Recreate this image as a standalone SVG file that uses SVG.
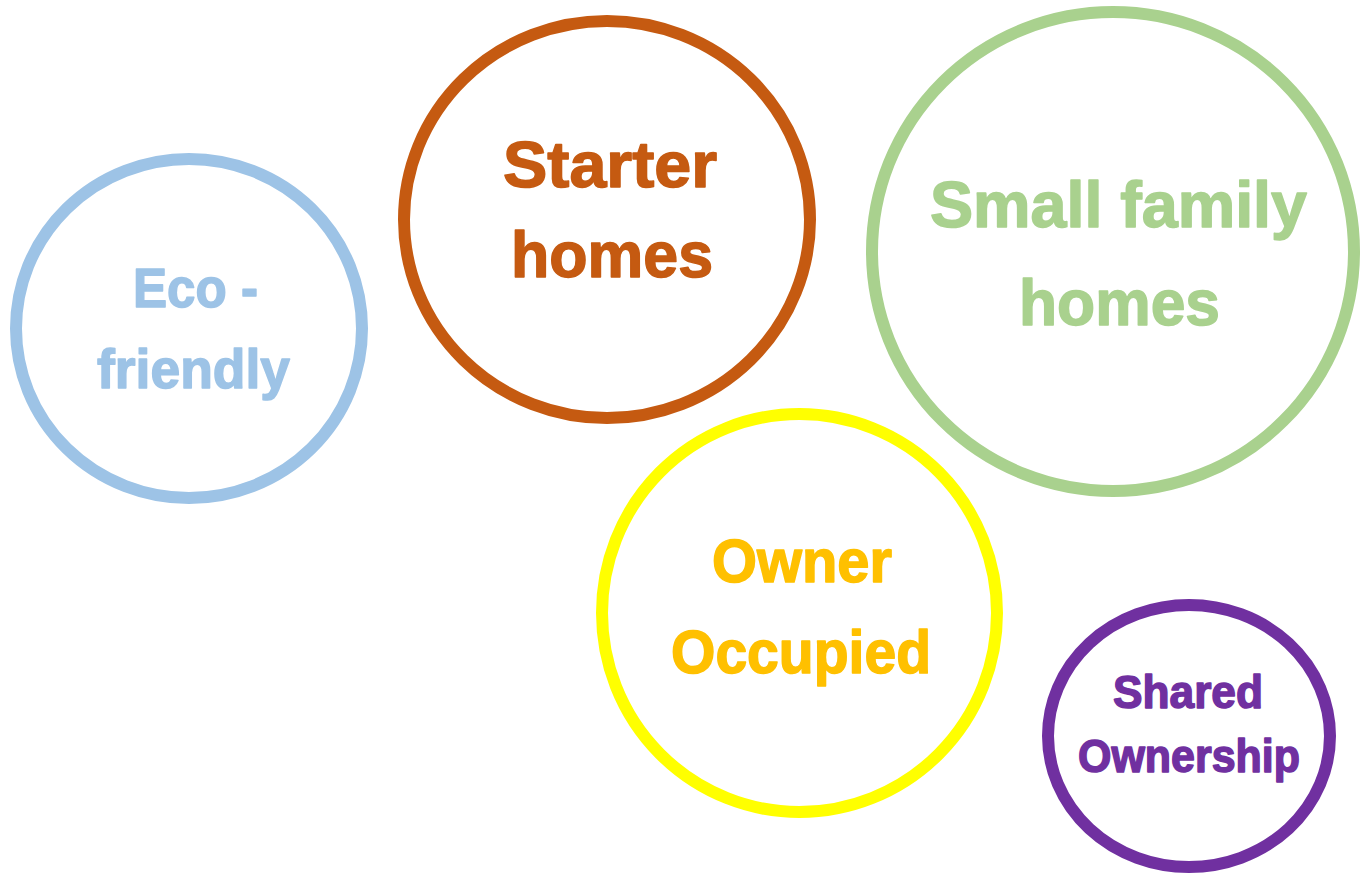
<svg xmlns="http://www.w3.org/2000/svg" width="1367" height="875" viewBox="0 0 1367 875">
  <style>
    .ring { fill: none; stroke-width: 12; }
    .lbl { font-family: "Liberation Sans", Arial, sans-serif; font-weight: bold; stroke-width: 1.5; stroke-linejoin: round; }
  </style>
  <rect width="1367" height="875" fill="#FFFFFF"/>
  <g id="connectors"></g>
  <g id="node-eco">
    <ellipse class="ring" cx="189" cy="328.5" rx="173" ry="169.5" stroke="#9DC3E6"/>
    <text class="lbl" font-size="56" fill="#9DC3E6" stroke="#9DC3E6" x="133" y="307" textLength="125" lengthAdjust="spacingAndGlyphs">Eco -</text>
    <text class="lbl" font-size="56" fill="#9DC3E6" stroke="#9DC3E6" x="97" y="388" textLength="193" lengthAdjust="spacingAndGlyphs">friendly</text>
  </g>
  <g id="node-starter">
    <ellipse class="ring" cx="607" cy="219.5" rx="203" ry="198.5" stroke="#C55A11"/>
    <text class="lbl" font-size="65" fill="#C55A11" stroke="#C55A11" x="503" y="187" textLength="214" lengthAdjust="spacingAndGlyphs">Starter</text>
    <text class="lbl" font-size="65" fill="#C55A11" stroke="#C55A11" x="511" y="277" textLength="202" lengthAdjust="spacingAndGlyphs">homes</text>
  </g>
  <g id="node-small-family">
    <ellipse class="ring" cx="1113" cy="251.5" rx="241" ry="239.5" stroke="#A9D18E"/>
    <text class="lbl" font-size="65" fill="#A9D18E" stroke="#A9D18E" x="930" y="227" textLength="377" lengthAdjust="spacingAndGlyphs">Small family</text>
    <text class="lbl" font-size="65" fill="#A9D18E" stroke="#A9D18E" x="1019" y="325" textLength="201" lengthAdjust="spacingAndGlyphs">homes</text>
  </g>
  <g id="node-owner">
    <ellipse class="ring" cx="799.5" cy="613" rx="197.5" ry="199" stroke="#FFFF00"/>
    <text class="lbl" font-size="61" fill="#FFC000" stroke="#FFC000" x="712" y="582" textLength="180" lengthAdjust="spacingAndGlyphs">Owner</text>
    <text class="lbl" font-size="61" fill="#FFC000" stroke="#FFC000" x="671" y="673" textLength="260" lengthAdjust="spacingAndGlyphs">Occupied</text>
  </g>
  <g id="node-shared">
    <ellipse class="ring" cx="1189" cy="736" rx="141" ry="131" stroke="#7030A0"/>
    <text class="lbl" font-size="46" fill="#7030A0" stroke="#7030A0" x="1113" y="708" textLength="150" lengthAdjust="spacingAndGlyphs">Shared</text>
    <text class="lbl" font-size="46" fill="#7030A0" stroke="#7030A0" x="1078" y="772" textLength="222" lengthAdjust="spacingAndGlyphs">Ownership</text>
  </g>
</svg>
